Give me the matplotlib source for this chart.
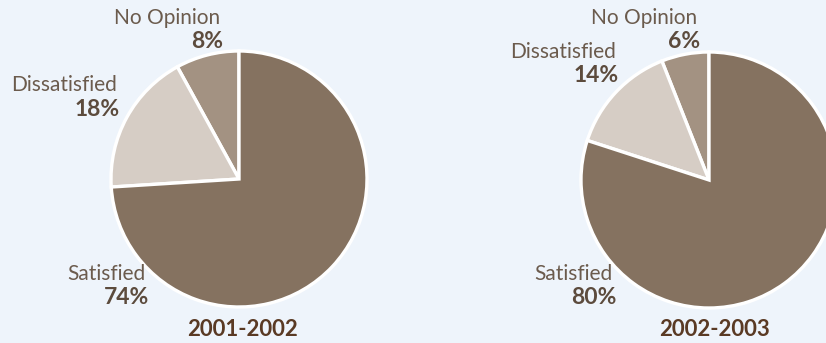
import matplotlib
matplotlib.use("Agg")
import matplotlib.pyplot as plt

# Survey responses per school year
years = ["2001-2002", "2002-2003"]
categories = ["No Opinion", "Dissatisfied", "Satisfied"]
values_2001 = [8, 18, 74]
values_2002 = [6, 14, 80]
slice_colors = ["#a39282", "#d6cdc5", "#857260"]

BG = "#eef4fb"
LABEL_COLOR = "#6b5b4d"
PCT_COLOR = "#5c4b3d"
TITLE_COLOR = "#5a3a24"

plt.rcParams["font.family"] = ["Lato", "DejaVu Sans"]

W, H = 826, 343
fig = plt.figure(figsize=(W / 100, H / 100), dpi=100, facecolor=BG)
ax = fig.add_axes([0, 0, 1, 1])
ax.set_facecolor(BG)

pies = [
    dict(values=values_2001, center=(239, 179), title_x=243,
         label_pos={"No Opinion": (220, 18), "Dissatisfied": (117, 85), "Satisfied": (146, 274)}),
    dict(values=values_2002, center=(709, 180), title_x=714,
         label_pos={"No Opinion": (697, 18), "Dissatisfied": (616, 52), "Satisfied": (613, 274)}),
]

R = 128
for year, p in zip(years, pies):
    cx, cy = p["center"]
    # y axis is inverted, so clockwise in data space runs counter-clockwise on screen
    ax.pie(p["values"], colors=slice_colors, startangle=-90, counterclock=False,
           center=(cx, cy), radius=R,
           wedgeprops=dict(edgecolor="white", linewidth=2.4))
    for cat, val in zip(categories, p["values"]):
        lx, ly = p["label_pos"][cat]
        ax.text(lx, ly, cat, ha="right", va="center", fontsize=15,
                color=LABEL_COLOR)
        ax.text(lx + 3, ly + 24, f"{val}%", ha="right", va="center",
                fontsize=16.5, fontweight="bold", color=PCT_COLOR)
    ax.text(p["title_x"], 330, year, ha="center", va="center", fontsize=16,
            fontweight="bold", color=TITLE_COLOR)

ax.set_xlim(0, W)
ax.set_ylim(H, 0)
ax.set_aspect("equal")
ax.axis("off")
fig.savefig("out.png", dpi=100, facecolor=BG)
